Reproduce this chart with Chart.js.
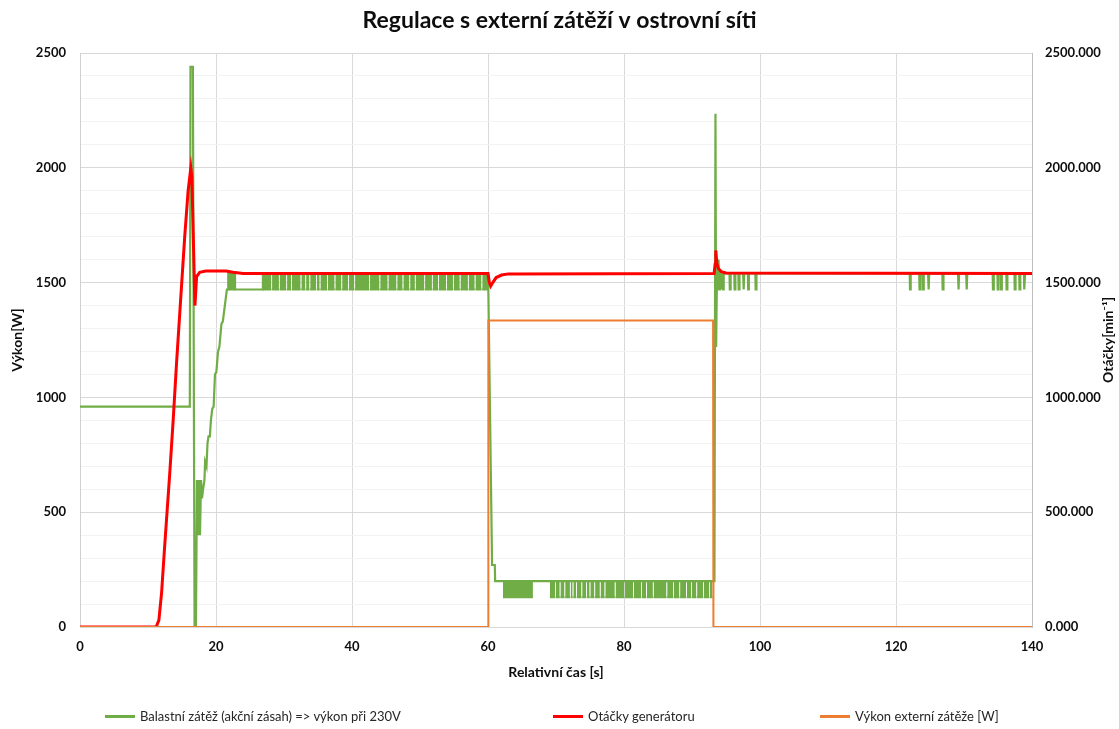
<!DOCTYPE html>
<html>
<head>
<meta charset="utf-8">
<title>Regulace s externí zátěží v ostrovní síti</title>
<script src="https://cdn.jsdelivr.net/npm/chart.js@4/dist/chart.umd.min.js"></script>
<style>
  html, body { margin: 0; padding: 0; background: #fff; }
  #wrap { position: relative; width: 1119px; height: 729px; }
  #legend { position: absolute; left: 0; top: 708px; width: 1119px; height: 20px;
            font-family: Lato, 'Open Sans', sans-serif; font-size: 13px; color: #262626; }
  .item { position: absolute; top: 0; display: flex; align-items: center; white-space: nowrap; }
  .item i { display: inline-block; width: 30px; height: 3px; margin-right: 5px; }
</style>
</head>
<body>
<div id="wrap">
  <canvas id="chart" width="1119" height="729"></canvas>
  <div id="legend"></div>
</div>
<script>
// ---- data ----
// Balastní zátěž: time [s] / power [W]
const ballastT = [0, 16.15, 16.25, 16.6, 16.85, 17.05, 17.2, 17.35, 17.5, 17.65,
  17.8, 17.95, 18.1, 18.3, 18.4, 18.6, 18.75, 18.9, 19.1, 19.25,
  19.45, 19.65, 19.85, 20.05, 20.3, 20.5, 20.8, 21.0, 21.3, 21.6,
  21.8, 21.8, 22.8, 22.8, 26.9, 26.9, 60.0, 60.05, 60.6, 61.0,
  61.05, 93.3, 93.45, 93.55, 93.7, 93.8, 93.9, 94.0, 94.1, 94.2,
  94.3, 94.4, 94.5, 140];
const ballastW = [960, 960, 2440, 2440, 0, 0, 640, 400, 640, 400,
  640, 560, 600, 640, 720, 700, 800, 830, 830, 900,
  950, 960, 1100, 1110, 1200, 1220, 1320, 1330, 1400, 1470,
  1470, 1540, 1540, 1470, 1470, 1540, 1540, 1470, 270, 270,
  200, 200, 2235, 1220, 1600, 1470, 1600, 1470, 1560, 1470,
  1540, 1470, 1540, 1540];
// short dips 1540 -> 1470 after the load is switched off
const ballastDips = [94.6, 95.6, 96.3, 96.9, 97.6, 98.3, 99.4,
  122.1, 123.5, 124.0, 124.8, 126.9, 129.2, 130.4,
  134.3, 135.0, 135.5, 136.3, 137.5, 138.2, 138.9];
// dense switching bands (upper 1470-1540 W, lower 130-200 W) and their gaps
const hiBands = [[21.8, 22.8], [26.9, 60.0]];
const hiSlits = [28.2, 29.3, 30.4, 31.1, 32.5, 33.2, 33.8, 34.8, 35.3, 36.4,
  37.5, 38.5, 39.5, 40.4, 42.6, 44.1, 45.3, 46.6, 47.5, 48.5,
  49.3, 50.7, 51.8, 52.7, 53.9, 54.9, 55.9, 57.1, 58.1, 59.1];
const loBands = [[62.2, 66.6], [69.1, 93.0]];
const loSlits = [69.9, 70.6, 71.3, 72.1, 72.5, 73.0, 73.8, 74.5, 75.0, 75.7,
  76.5, 77.2, 78.7, 80.1, 81.4, 82.6, 83.3, 84.3, 86.3, 87.3,
  88.2, 89.2, 89.9, 90.7, 91.7, 92.6];

// Otáčky generátoru: time [s] / rpm
const rpmT = [0, 11.2, 11.6, 12.0, 12.4, 12.8, 13.2, 13.7, 14.2, 14.7,
  15.4, 15.9, 16.3, 16.45, 16.7, 16.9, 17.15, 17.6, 18.5, 20.0,
  21.5, 22.5, 24, 60.0, 60.2, 60.4, 60.7, 61.2, 62.0, 63.0,
  93.25, 93.4, 93.5, 93.65, 93.9, 94.3, 95.0, 140];
const rpmV = [0, 0, 30, 150, 330, 500, 670, 900, 1150, 1380,
  1700, 1900, 2000, 1960, 1650, 1400, 1526, 1545, 1550, 1550,
  1550, 1545, 1540, 1540, 1500, 1485, 1500, 1522, 1533, 1538,
  1540, 1580, 1640, 1585, 1560, 1548, 1542, 1540];

// Výkon externí zátěže: time [s] / power [W]
const extT = [0, 60.0, 60.05, 93.1, 93.15, 140];
const extW = [0, 0, 1335, 1335, 0, 0];

const xTicks = [0, 20, 40, 60, 80, 100, 120, 140];
const legendLabels = ['Balastní zátěž (akční zásah) => výkon při 230V', 'Otáčky generátoru', 'Výkon externí zátěže [W]'];

const GREEN = '#70ad47';
const RED = '#ff0000';
const ORANGE = '#ed7d31';
const FONT = "Lato, 'Open Sans', sans-serif";

// ---- helpers ----
const pairs = (ts, vs) => ts.map((t, i) => ({ x: t, y: vs[i] }));

function ballastPoints() {
  const pts = pairs(ballastT, ballastW);
  ballastDips.forEach(t => {
    pts.push({ x: t - 0.08, y: 1540 }, { x: t - 0.04, y: 1470 },
             { x: t + 0.04, y: 1470 }, { x: t + 0.08, y: 1540 });
  });
  return pts.sort((a, b) => a.x - b.x);
}

// band edge with breaks where the signal held the upper level
function bandPoints(bands, slits, level) {
  const pts = [];
  bands.forEach(([a, b]) => {
    let start = a;
    slits.filter(s => s > a && s < b).forEach(s => {
      pts.push({ x: start, y: level }, { x: s - 0.05, y: level }, { x: s, y: null });
      start = s + 0.05;
    });
    pts.push({ x: start, y: level }, { x: b, y: level }, { x: b + 0.01, y: null });
  });
  return pts;
}

// right axis title reads bottom-to-top like the left one
const rightTitle = {
  id: 'rightTitle',
  afterDraw(chart) {
    const { ctx, chartArea } = chart;
    ctx.save();
    ctx.translate(chart.width - 11, (chartArea.top + chartArea.bottom) / 2);
    ctx.rotate(-Math.PI / 2);
    ctx.font = 'bold 14px ' + FONT;
    ctx.fillStyle = '#0d0d0d';
    ctx.textAlign = 'center';
    ctx.textBaseline = 'middle';
    ctx.fillText('Otáčky[min⁻¹]', 0, 0);
    ctx.restore();
  },
};

Chart.defaults.font.family = FONT;
Chart.defaults.color = '#0d0d0d';

const lineBase = { pointRadius: 0, pointHoverRadius: 0, tension: 0, fill: false, spanGaps: false };

const chart = new Chart(document.getElementById('chart'), {
  type: 'line',
  data: {
    datasets: [
      { ...lineBase, label: legendLabels[0], data: ballastPoints(), borderColor: GREEN, backgroundColor: GREEN,
        borderWidth: 2.2, order: 3, yAxisID: 'y' },
      { ...lineBase, label: legendLabels[1], data: pairs(rpmT, rpmV), borderColor: RED, backgroundColor: RED,
        borderWidth: 3, order: 2, yAxisID: 'y1' },
      { ...lineBase, label: legendLabels[2], data: pairs(extT, extW), borderColor: ORANGE, backgroundColor: ORANGE,
        borderWidth: 2, order: 1, yAxisID: 'y' },
      { ...lineBase, label: 'band-hi', data: bandPoints(hiBands, hiSlits, 1470), borderColor: GREEN,
        backgroundColor: GREEN, borderWidth: 2, fill: { value: 1540 }, order: 4, yAxisID: 'y' },
      { ...lineBase, label: 'band-lo', data: bandPoints(loBands, loSlits, 130), borderColor: GREEN,
        backgroundColor: GREEN, borderWidth: 2, fill: { value: 200 }, order: 4, yAxisID: 'y' },
    ],
  },
  options: {
    responsive: false,
    animation: false,
    events: [],
    layout: { padding: { top: 0, bottom: 42, left: 0, right: 0 } },
    plugins: {
      legend: { display: false },
      tooltip: { enabled: false },
      title: {
        display: true,
        text: 'Regulace s externí zátěží v ostrovní síti',
        color: '#0d0d0d',
        font: { size: 23, weight: 'bold' },
        padding: { top: 7, bottom: 18.4 },
      },
    },
    scales: {
      x: {
        type: 'linear', min: 0, max: 140,
        afterBuildTicks: s => { s.ticks = xTicks.map(v => ({ value: v })); },
        afterFit: s => { s.height = 60; },
        grid: { color: '#d9d9d9', drawTicks: false },
        border: { display: false },
        ticks: { padding: 12, font: { size: 13, weight: 'bold' } },
        title: { display: true, text: 'Relativní čas [s]', padding: 6, font: { size: 14, weight: 'bold' } },
      },
      y: {
        position: 'left', min: 0, max: 2500,
        afterFit: s => { s.width = 80; },
        grid: { color: c => (c.tick.value % 500 === 0 ? '#d9d9d9' : '#f2f2f2'), drawTicks: false },
        border: { color: '#d0d0d0' },
        ticks: { stepSize: 100, autoSkip: false, padding: 14, font: { size: 13, weight: 'bold' },
                 callback: v => (v % 500 === 0 ? v : '') },
        title: { display: true, text: 'Výkon[W]', padding: 9, font: { size: 14, weight: 'bold' } },
      },
      y1: {
        position: 'right', min: 0, max: 2500,
        afterFit: s => { s.width = 87; },
        grid: { drawOnChartArea: false, drawTicks: false },
        border: { color: '#bfbfbf' },
        ticks: { stepSize: 500, padding: 13, font: { size: 13, weight: 'bold' }, callback: v => v.toFixed(3) },
      },
    },
  },
  plugins: [rightTitle],
});

// ---- legend (Excel spreads the entries across the bottom) ----
const legendLeft = [105, 553, 820];
const legendEl = document.getElementById('legend');
chart.data.datasets.slice(0, 3).forEach((ds, i) => {
  const item = document.createElement('div');
  item.className = 'item';
  item.style.left = legendLeft[i] + 'px';
  item.innerHTML = `<i style="background:${ds.borderColor}"></i><span></span>`;
  item.querySelector('span').textContent = ds.label;
  legendEl.appendChild(item);
});
</script>
</body>
</html>
